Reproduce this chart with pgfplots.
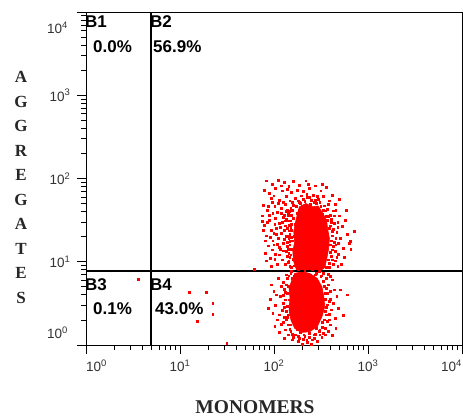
\documentclass[border=0pt]{standalone}
\usepackage{fontspec}
\setmainfont{Liberation Sans}
\newfontfamily\serifb{Liberation Serif}
\usepackage{pgfplots}
\pgfplotsset{compat=1.18}
\begin{document}
\begin{tikzpicture}[x=1pt,y=1pt]
\path[use as bounding box] (0,0) rectangle (463,417);
\begin{axis}[
  at={(86pt,72pt)}, anchor=south west,
  scale only axis, width=376pt, height=333pt,
  xmin=0,xmax=4,ymin=0,ymax=4,
  axis line style={black, line width=0.9pt},
  xtick={0,1,2,3,4},
  xticklabels={\rlap{10\textsuperscript{0}},10\textsuperscript{1},10\textsuperscript{2},10\textsuperscript{3},\llap{10\textsuperscript{4}}},
  ytick={0,1,2,3,4},
  yticklabels={,10\textsuperscript{1},10\textsuperscript{2},10\textsuperscript{3},},
  minor xtick={0.301,0.477,0.602,0.699,0.778,0.845,0.903,0.954,1.301,1.477,1.602,1.699,1.778,1.845,1.903,1.954,2.301,2.477,2.602,2.699,2.778,2.845,2.903,2.954,3.301,3.477,3.602,3.699,3.778,3.845,3.903,3.954},
  minor ytick={0.301,0.477,0.602,0.699,0.778,0.845,0.903,0.954,1.301,1.477,1.602,1.699,1.778,1.845,1.903,1.954,2.301,2.477,2.602,2.699,2.778,2.845,2.903,2.954,3.301,3.477,3.602,3.699,3.778,3.845,3.903,3.954},
  tick align=outside, xtick pos=left, ytick pos=left,
  major tick length=9pt, minor tick length=5pt,
  tick style={black, line width=0.8pt},
  ticklabel style={font=\fontsize{13.5}{13.5}\selectfont, text=black!80},
  xticklabel style={yshift=-2pt},
  yticklabel style={xshift=-3pt},
  clip=true,
]
% dense cores
\addplot[fill=red, draw=red, line width=0.6pt] coordinates {(2.27,1.66) (2.34,1.70) (2.41,1.66) (2.47,1.67) (2.52,1.58) (2.56,1.50) (2.57,1.40) (2.59,1.28) (2.58,1.15) (2.56,1.03) (2.54,0.93) (2.48,0.88) (2.40,0.89) (2.30,0.88) (2.24,0.90) (2.21,1.00) (2.20,1.12) (2.22,1.24) (2.21,1.36) (2.23,1.48) (2.25,1.58)} -- cycle;
\addplot[fill=red, draw=red, line width=0.6pt] coordinates {(2.22,0.86) (2.30,0.88) (2.38,0.86) (2.46,0.80) (2.51,0.70) (2.53,0.58) (2.54,0.46) (2.51,0.34) (2.46,0.22) (2.38,0.16) (2.29,0.15) (2.22,0.20) (2.18,0.30) (2.16,0.42) (2.17,0.56) (2.16,0.68) (2.19,0.78)} -- cycle;
% scattered events
\addplot[only marks, color=red, mark=square*, mark size=0.9pt, mark options={draw=red, fill=red, line width=0pt}] coordinates {
(1.92,1.97) (1.98,1.93) (2.05,1.98) (2.11,1.95) (2.16,1.90) (2.21,1.96) (2.27,1.92) (2.34,1.97) (2.02,1.88) (2.09,1.85) (2.19,1.83) (2.25,1.86) (2.31,1.84) (2.38,1.88) (2.44,1.91) (2.50,1.85) (2.56,1.89) (1.95,1.82) (2.00,1.79) (2.13,1.78) (2.23,1.76) (2.29,1.79) (2.36,1.77) (2.42,1.80) (2.47,1.75) (2.53,1.78) (2.59,1.73) (2.33,1.72) (2.40,1.74) (2.27,1.71) (2.45,1.70) (2.17,1.73) (2.06,1.74) (1.90,1.86) (2.62,1.80) (2.08,1.91) (2.14,1.87) (2.37,1.93) (2.52,1.93) (1.97,1.76)
(1.89,1.68) (1.93,1.62) (1.88,1.55) (1.95,1.50) (1.90,1.44) (1.97,1.38) (1.92,1.31) (1.99,1.25) (1.94,1.19) (1.91,1.10) (1.96,1.04) (2.01,1.66) (2.04,1.59) (2.02,1.52) (2.06,1.46) (2.03,1.40) (2.08,1.34) (2.05,1.28) (2.10,1.22) (2.07,1.15) (2.02,1.09) (2.09,1.02) (2.12,1.69) (2.14,1.62) (2.11,1.56) (2.15,1.49) (2.12,1.43) (2.16,1.37) (2.13,1.30) (2.17,1.24) (2.14,1.18) (2.16,1.10) (2.12,0.97) (1.98,1.71) (1.99,1.58) (1.93,1.47) (2.00,1.34) (1.96,1.29) (2.04,1.21) (1.98,1.14) (2.06,1.08) (1.92,1.01) (2.08,1.64) (2.10,1.53) (2.07,1.41) (2.11,1.27) (2.05,1.70) (1.94,1.66) (1.89,1.38) (2.01,1.45) (2.09,1.47) (2.15,1.55) (2.18,1.64) (2.19,1.45) (2.17,1.05) (2.04,0.97) (1.97,0.94) (2.13,1.12) (2.00,1.20) (1.91,1.25) (2.03,1.33) (2.15,1.31) (2.08,1.58) (1.95,1.56) (2.10,1.71) (2.01,1.03) (2.06,1.17) (1.88,1.48) (2.14,1.40)
(2.20,1.62) (2.24,1.66) (2.28,1.70) (2.35,1.68) (2.43,1.71) (2.50,1.66) (2.55,1.61) (2.58,1.54) (2.61,1.47) (2.63,1.39) (2.62,1.31) (2.64,1.23) (2.62,1.14) (2.61,1.06) (2.59,0.98) (2.56,0.93) (2.21,1.52) (2.19,1.38) (2.20,1.25) (2.19,1.15) (2.21,1.03) (2.22,0.95) (2.25,1.58) (2.47,1.62) (2.52,1.57) (2.57,1.50) (2.59,1.40) (2.60,1.20) (2.58,1.02)
(2.17,1.60) (2.19,1.56) (2.18,1.49) (2.16,1.44) (2.18,1.41) (2.17,1.33) (2.19,1.29) (2.17,1.20) (2.18,1.08) (2.16,1.01) (2.19,0.93) (2.21,1.68) (2.26,1.73) (2.31,1.75) (2.38,1.77) (2.44,1.74) (2.49,1.71) (2.54,1.67) (2.57,1.63) (2.60,1.56) (2.61,1.51) (2.60,1.43) (2.62,1.36) (2.61,1.25) (2.63,1.18) (2.60,1.11) (2.62,1.02) (2.59,0.93) (2.63,0.97) (2.65,1.12) (2.66,1.28) (2.64,1.46) (2.23,1.45) (2.22,1.30) (2.23,1.18) (2.24,1.06) (2.27,1.62) (2.30,1.66) (2.39,1.69) (2.53,1.62) (2.56,1.54) (2.15,1.58) (2.13,1.51) (2.16,1.28) (2.14,1.23) (2.15,1.15) (2.14,1.06) (2.15,0.99) (2.17,0.94) (2.10,1.13) (2.11,1.38) (2.12,1.49) (2.13,1.60) (2.20,1.71) (2.35,1.81) (2.46,1.78) (2.58,1.69) (2.63,1.61) (2.68,1.41) (2.69,1.22) (2.67,1.05)
(2.66,1.62) (2.70,1.55) (2.68,1.47) (2.73,1.42) (2.67,1.35) (2.71,1.28) (2.66,1.20) (2.74,1.16) (2.69,1.09) (2.65,1.01) (2.72,0.97) (2.76,1.50) (2.78,1.33) (2.80,1.22) (2.64,1.55) (2.75,1.05) (2.68,0.94) (2.86,1.36) (2.82,1.15) (2.77,1.62) (2.65,1.69) (2.70,1.75) (2.81,1.24)
(1.97,0.72) (2.00,0.64) (1.96,0.55) (2.02,0.47) (1.99,0.38) (2.04,0.30) (2.01,0.22) (2.06,0.15) (2.05,0.80) (2.08,0.70) (2.07,0.58) (2.10,0.50) (2.09,0.41) (2.11,0.33) (2.08,0.25) (2.12,0.18) (2.13,0.84) (2.12,0.63) (2.14,0.46) (2.13,0.30) (2.03,0.60) (2.06,0.36) (1.94,0.44) (2.10,0.75) (2.15,0.12) (2.11,0.08)
(2.56,0.80) (2.58,0.72) (2.57,0.62) (2.60,0.55) (2.56,0.45) (2.59,0.37) (2.57,0.28) (2.55,0.20) (2.62,0.78) (2.64,0.66) (2.63,0.50) (2.61,0.42) (2.65,0.32) (2.60,0.24) (2.67,0.58) (2.69,0.44) (2.58,0.85) (2.66,0.20) (2.71,0.66) (2.53,0.14) (2.62,0.11) (2.74,0.35) (2.78,0.60)
(2.18,0.16) (2.23,0.12) (2.28,0.15) (2.33,0.10) (2.38,0.14) (2.43,0.12) (2.48,0.16) (2.51,0.09) (2.20,0.06) (2.26,0.04) (2.31,0.07) (2.36,0.03) (2.41,0.06) (2.46,0.04) (2.30,0.01) (2.40,0.01)
(2.19,0.88) (2.26,0.90) (2.33,0.89) (2.41,0.90) (2.48,0.88) (2.53,0.86) (2.22,0.83) (2.44,0.84)
(2.15,0.70) (2.16,0.54) (2.15,0.36) (2.18,0.24) (2.25,0.19) (2.35,0.18) (2.45,0.20) (2.52,0.27) (2.55,0.40) (2.55,0.55) (2.54,0.70) (2.50,0.82) (2.30,0.86) (2.20,0.80)
(2.14,0.80) (2.13,0.72) (2.14,0.62) (2.12,0.54) (2.13,0.40) (2.14,0.33) (2.15,0.24) (2.17,0.19) (2.20,0.13) (2.26,0.10) (2.32,0.12) (2.38,0.09) (2.44,0.13) (2.49,0.17) (2.52,0.21) (2.54,0.30) (2.56,0.36) (2.57,0.48) (2.55,0.62) (2.56,0.68) (2.53,0.76) (2.51,0.83) (2.45,0.86) (2.18,0.86) (2.11,0.67) (2.10,0.59) (2.11,0.45) (2.10,0.27) (2.59,0.52) (2.60,0.64) (2.59,0.30) (2.58,0.16) (2.35,0.06) (2.27,0.08) (2.43,0.08) (2.49,0.12) (2.60,0.82) (2.16,0.83) (2.21,0.09) (2.55,0.12)
(0.56,0.79) (1.10,0.63) (1.28,0.63) (1.35,0.50) (1.35,0.37) (1.19,0.28) (1.50,0.02) (1.79,0.91)
};
% quadrant markers
\addplot[black, line width=2.6pt] coordinates {(0.691,0) (0.691,4)};
\addplot[black, line width=2.6pt] coordinates {(0,0.889) (4,0.889)};
\end{axis}
% end tick labels of y axis
\node[anchor=east, inner sep=0pt, font=\fontsize{13.5}{13.5}\selectfont, text=black!80] at (68,84) {10\textsuperscript{0}};
\node[anchor=east, inner sep=0pt, font=\fontsize{13.5}{13.5}\selectfont, text=black!80] at (68,389) {10\textsuperscript{4}};
% quadrant labels
\begin{scope}[every node/.style={anchor=west, inner sep=0pt, font=\bfseries\fontsize{17}{17}\selectfont}]
\node at (85,395) {B1};
\node at (93,370) {0.0\%};
\node at (150,395) {B2};
\node at (153,370) {56.9\%};
\node at (85,132) {B3};
\node at (93,108) {0.1\%};
\node at (150,132) {B4};
\node at (155,108) {43.0\%};
\end{scope}
% axis titles
\node[font=\serifb\bfseries\fontsize{17}{24.5}\selectfont, align=center, text=black!85] at (21,229.5) {A\\G\\G\\R\\E\\G\\A\\T\\E\\S};
\node[font=\serifb\bfseries\fontsize{19.5}{19.5}\selectfont, text=black!85] at (255,10) {MONOMERS};
\end{tikzpicture}
\end{document}
